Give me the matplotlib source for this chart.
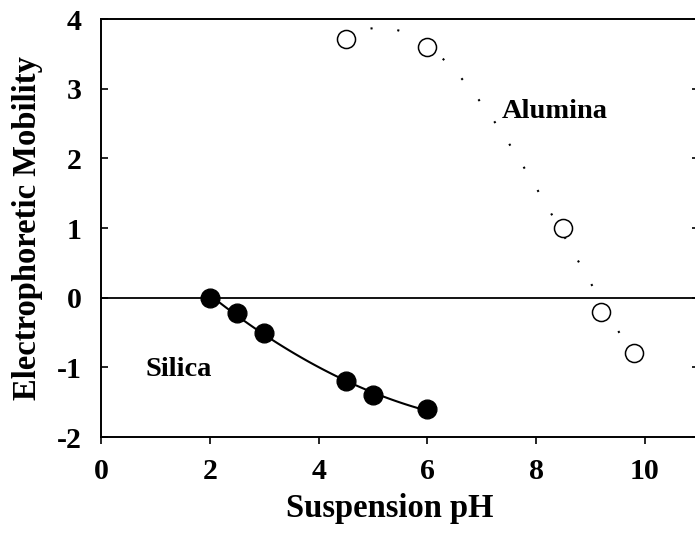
import numpy as np
import matplotlib.pyplot as plt

plt.rcParams['font.family'] = ['Liberation Serif', 'DejaVu Serif']
plt.rcParams['font.weight'] = 'bold'
plt.rcParams['axes.unicode_minus'] = False

# silica (filled) and alumina (open) electrophoretic mobility vs pH
silica_ph = [2.0, 2.5, 3.0, 4.5, 5.0, 6.0]
silica_mob = [0.0, -0.22, -0.5, -1.2, -1.4, -1.6]
alumina_ph = [4.5, 6.0, 8.5, 9.2, 9.8]
alumina_mob = [3.72, 3.6, 1.0, -0.2, -0.8]

fig = plt.figure(figsize=(6.95, 5.37), dpi=100)
ax = fig.add_axes([0.1453, 0.1862, 0.861, 0.778])

# fitted trend curves through each data set
xs = np.linspace(min(silica_ph), max(silica_ph), 100)
ax.plot(xs, np.polyval(np.polyfit(silica_ph, silica_mob, 2), xs),
        color='black', lw=1.5, zorder=2)
xa = np.linspace(min(alumina_ph), max(alumina_ph), 200)
ax.plot(xa, np.polyval(np.polyfit(alumina_ph, alumina_mob, 3), xa),
        color='black', lw=1.5, linestyle=(0, (1, 12)), zorder=2)

ax.axhline(0, color='black', lw=1.3, zorder=1)

ax.plot(silica_ph, silica_mob, 'o', color='black', ms=13.5, zorder=3)
ax.plot(alumina_ph, alumina_mob, 'o', mfc='white', mec='black', mew=1.1,
        ms=13, zorder=3)

ax.text(7.37, 2.68, 'Alumina', fontsize=20.5, fontweight='bold', va='center')
ax.text(0.81, -1.03, 'Silica', fontsize=20.5, fontweight='bold', va='center')

ax.set_xlim(0, 11)
ax.set_ylim(-2, 4)
ax.set_xticks(range(0, 11, 2))
ax.set_yticks(range(-2, 5))
ax.tick_params(axis='x', direction='out', length=5, width=1.2, labelsize=21.5, pad=10)
ax.tick_params(axis='y', direction='in', length=5, width=1.2, labelsize=21.5,
               right=True, pad=14)
for s in ax.spines.values():
    s.set_linewidth(1.4)

ax.set_xlabel('Suspension pH', fontsize=23.5, fontweight='bold', labelpad=6)
ax.set_ylabel('Electrophoretic Mobility', fontsize=23.5, fontweight='bold', labelpad=10)
ax.xaxis.set_label_coords(0.482, -0.135)

fig.savefig('out.png', dpi=100)
